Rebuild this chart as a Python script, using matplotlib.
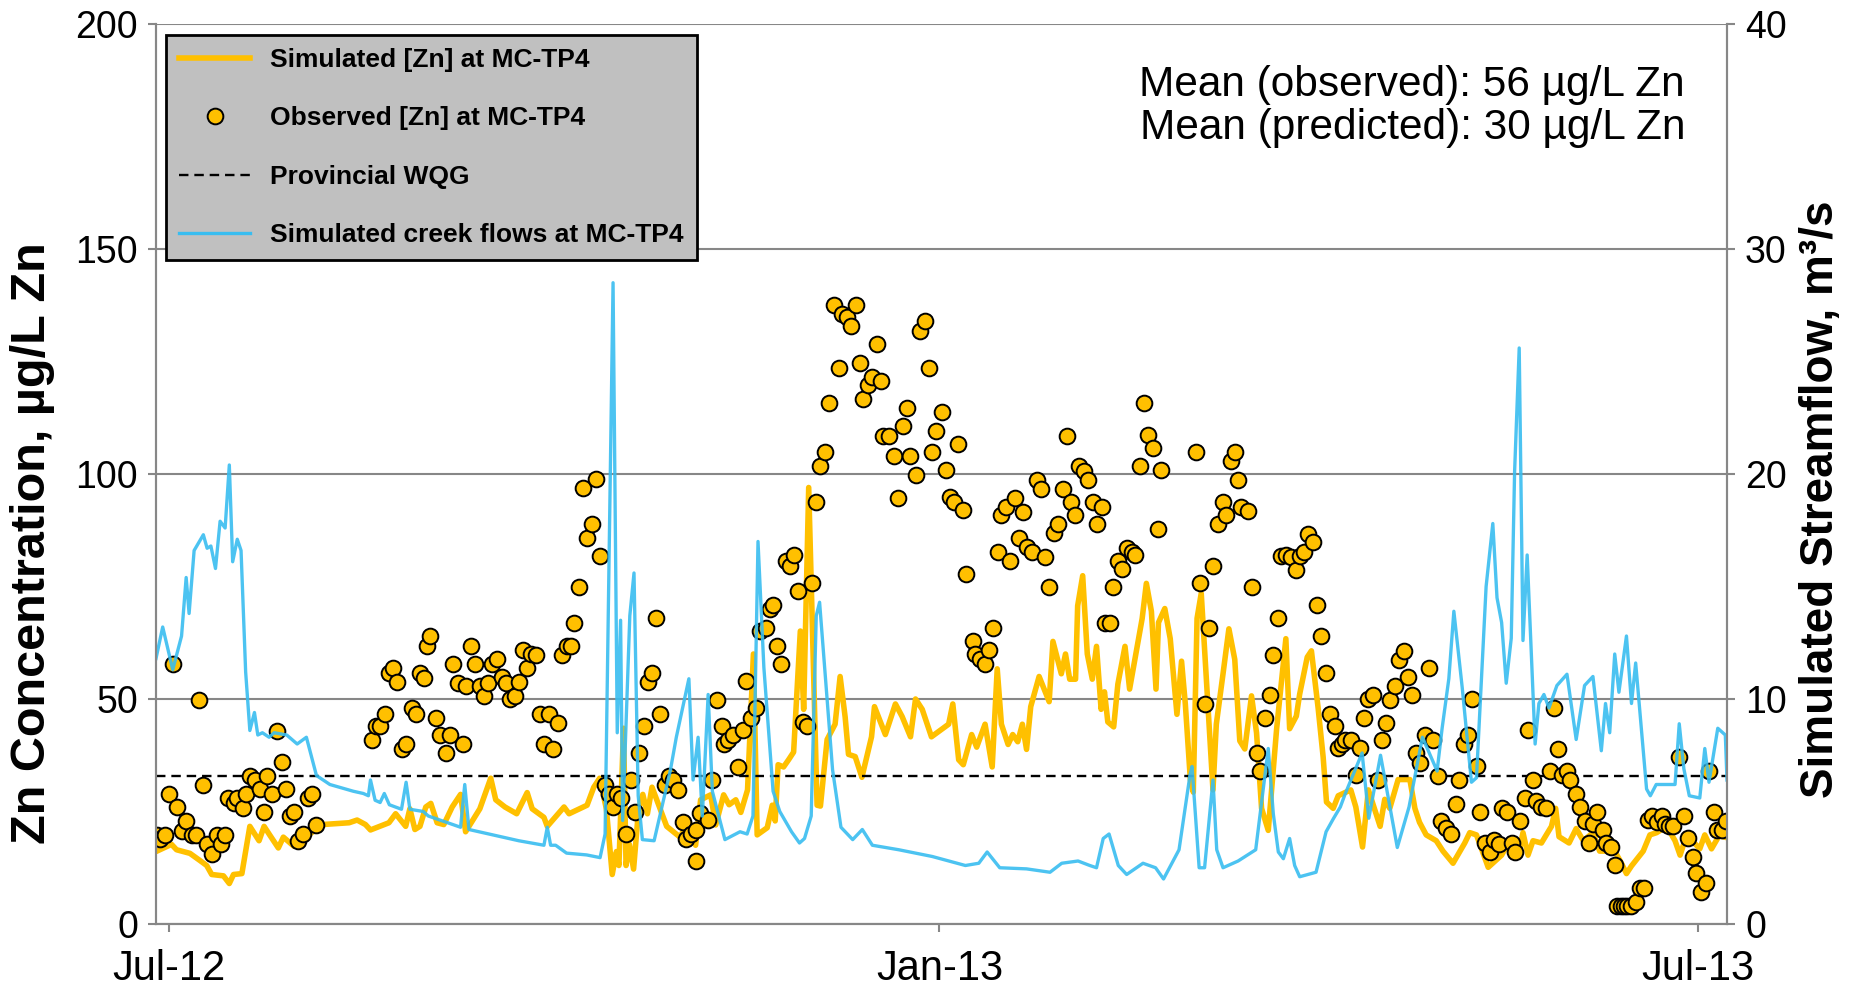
import numpy as np
import pandas as pd
import matplotlib
matplotlib.use('Agg')
import matplotlib.pyplot as plt
import matplotlib.dates as mdates
from matplotlib.lines import Line2D

plt.rcParams['font.family'] = ['Liberation Sans', 'DejaVu Sans']

START = pd.Timestamp('2012-06-28')
WQG = 33

# simulated creek flow, m3/s (day offset from START, value)
flow_days = [0, 1.6, 4.0, 6.1, 7.2, 7.9, 9.1, 11.3, 12.2, 13.1, 14.2, 15.3, 16.5, 17.5, 18.3, 19.4,
             20.3, 21.4, 22.4, 23.5, 24.3, 25.4, 27.0, 28.2, 31.2, 33.7, 35.9, 38.3, 41.5, 47.1,
             49.5, 50.7, 51.2, 52.3, 53.5, 54.5, 55.7, 58.6, 59.7, 60.6, 63.8, 65.0, 72.7, 73.7,
             74.7, 79.5, 86.6, 92.6, 93.4, 94.2, 95.4, 98.0, 102.8, 106.0, 107.2, 109.1, 110.1,
             110.9, 111.4, 113.1, 114.1, 115.1, 116.1, 118.9, 122.8, 124.2, 127.2, 128.2, 129.4,
             130.4, 131.8, 132.8, 135.8, 139.4, 141.1, 142.5, 143.7, 145.1, 147.3, 148.9, 151.7,
             153.6, 154.8, 156.4, 157.6, 158.4, 161.5, 163.5, 166.3, 168.6, 171.0, 177.3, 185.3,
             193.2, 196.4, 198.4, 201.4, 207.8, 213.4, 216.2, 220.1, 222.9, 224.5, 226.1, 227.5,
             229.7, 231.7, 235.6, 238.6, 240.5, 244.2, 246.8, 247.3, 249.0, 250.3, 252.3, 253.2,
             254.7, 258.3, 262.5, 264.3, 265.5, 266.7, 267.9, 269.1, 270.6, 271.8, 273.0, 276.9,
             279.3, 281.1, 282.7, 283.9, 287.9, 289.5, 292.3, 296.3, 299.1, 302.3, 305.8, 307.0,
             308.6, 309.8, 311.8, 314.0, 315.2, 317.5, 319.1, 320.1, 321.2, 322.3, 323.5, 324.3,
             325.4, 326.3, 327.3, 329.2, 330.1, 331.3, 332.5, 334.4, 336.8, 339.0, 341.0, 343.0,
             345.0, 346.0, 347.0, 348.2, 349.2, 351.0, 352.2, 353.2, 355.8, 356.7, 358.1, 362.6,
             363.6, 364.7, 366.0, 368.5, 369.7, 370.7, 372.8, 374.6, 375.0]
flow_vals = [11.8, 13.2, 11.3, 12.8, 15.4, 13.8, 16.6, 17.3, 16.7, 16.8, 15.8, 17.9, 17.6, 20.4, 16.1, 17.1,
             16.6, 11.2, 8.6, 9.4, 8.4, 8.5, 8.3, 8.5, 8.4, 8.0, 8.3, 6.6, 6.2, 5.9,
             5.8, 5.7, 6.4, 5.5, 5.4, 5.8, 5.3, 5.1, 6.3, 5.1, 5.0, 4.8, 4.3, 6.2,
             4.2, 4.0, 3.7, 3.5, 4.3, 3.5, 3.5, 3.15, 3.07, 2.95, 4.0, 28.5, 8.5,
             13.5, 4.6, 13.7, 15.6, 5.7, 3.75, 3.7, 6.85, 8.3, 10.9, 6.4, 8.3,
             4.8, 10.2, 5.9, 3.75, 4.1, 4.0, 4.8, 17.0, 11.4, 5.9, 5.0, 4.1,
             3.6, 3.8, 4.8, 13.7, 14.3, 6.85, 4.3, 3.75, 4.2, 3.5, 3.3, 3.0,
             2.6, 2.7, 3.2, 2.5, 2.45, 2.3, 2.7, 2.8, 2.6, 2.5, 3.8, 4.0,
             2.6, 2.2, 2.7, 2.5, 2.0, 3.3, 6.6, 7.0, 2.5, 2.5, 6.4, 3.3,
             2.5, 2.8, 3.3, 6.0, 7.8, 4.9, 3.2, 2.9, 3.8, 2.6, 2.1, 2.3,
             4.1, 4.7, 5.2, 5.8, 7.6, 4.7, 7.5, 3.4, 5.2, 8.3, 6.8, 8.7,
             10.9, 13.9, 10.5, 6.3, 6.5, 15.0, 17.8, 14.5, 13.4, 10.7, 12.7, 20.1,
             25.6, 12.6, 16.4, 8.0, 9.8, 10.2, 9.6, 10.6, 11.1, 8.2, 10.6, 11.0,
             7.7, 9.8, 8.5, 12.0, 10.3, 12.8, 9.8, 11.6, 6.0, 5.7, 6.2, 6.2,
             8.9, 6.9, 5.7, 5.6, 7.8, 6.3, 8.7, 8.4, 6.4]

# simulated Zn concentration, ug/L
zn_days = [0, 3.7, 4.9, 8.1, 10.5, 12.1, 13.3, 16.1, 17.5, 18.5, 20.5, 22.4, 24.6, 25.8, 27.2, 29.2,
           30.4, 32.9, 39.7, 46.1, 48.0, 50.0, 51.2, 55.6, 57.2, 59.6, 60.6, 61.8, 63.0, 64.4,
           65.6, 67.1, 68.7, 70.7, 72.7, 73.9, 77.3, 79.9, 81.1, 83.3, 86.1, 88.6, 89.8, 92.6,
           93.4, 97.4, 98.6, 102.9, 104.5, 105.9, 107.5, 108.9, 109.9, 110.5, 111.6, 112.2,
           113.0, 114.0, 115.2, 116.2, 117.3, 118.4, 121.9, 125.1, 127.2, 128.8, 130.0, 132.4,
           133.6, 135.5, 136.8, 138.4, 139.6, 141.2, 142.6, 143.5, 145.9, 147.1, 147.8, 148.5,
           149.8, 151.0, 152.2, 153.8, 154.6, 155.8, 157.8, 158.6, 160.2, 162.1, 163.3, 164.5,
           165.3, 166.9, 168.5, 170.8, 171.5, 174.1, 176.5, 178.1, 180.1, 181.3, 182.9, 185.1,
           189.2, 190.2, 191.6, 192.7, 194.7, 195.9, 197.9, 199.6, 200.8, 201.8, 203.4, 204.5,
           205.7, 206.8, 207.8, 208.8, 210.8, 213.2, 214.1, 216.1, 217.1, 218.1, 219.5, 220.0,
           221.2, 222.3, 223.5, 224.5, 225.6, 226.4, 227.2, 228.6, 229.6, 231.3, 232.4, 235.4,
           236.4, 237.6, 238.7, 239.3, 240.8, 242.1, 243.7, 244.8, 245.7, 246.9, 247.6, 248.5,
           249.5, 252.3, 253.1, 254.7, 256.1, 257.5, 258.7, 259.9, 261.5, 262.7, 263.9, 265.5,
           267.5, 269.7, 270.6, 272.2, 273.0, 274.8, 275.8, 277.4, 278.6, 279.4, 281.0, 282.2,
           285.2, 286.4, 288.0, 289.4, 292.2, 293.3, 294.5, 296.5, 299.3, 300.5, 301.6, 303.2,
           305.6, 307.2, 309.6, 312.4, 313.6, 315.2, 318.0, 321.2, 322.8, 325.4, 326.3, 327.5,
           328.7, 330.7, 333.1, 334.1, 334.9, 337.3, 339.0, 340.7, 343.0, 344.6, 348.2, 349.8,
           351.0, 352.2, 355.0, 356.6, 358.2, 360.6, 362.6, 363.8, 365.4, 368.5, 369.7, 371.3,
           373.1, 374.9]
zn_vals = [16.1, 17.7, 16.5, 15.7, 14.1, 13.0, 11.0, 10.7, 9.0, 11.0, 11.2, 21.7, 18.5, 21.7, 19.7, 16.9,
           19.3, 17.3, 22.1, 22.5, 23.1, 22.1, 20.9, 22.5, 24.5, 21.7, 25.6, 21.0, 21.7, 26.0,
           26.8, 22.5, 22.1, 26.0, 28.8, 20.5, 25.6, 32.4, 27.6, 26.0, 24.5, 29.2, 25.6, 23.7,
           21.7, 26.0, 24.5, 26.4, 30.4, 32.4, 25.6, 11.0, 16.1, 13.0, 43.5, 13.0,
           17.7, 12.2, 25.6, 28.8, 24.5, 30.4, 21.7, 19.3, 23.1, 17.5, 27.6, 28.7,
           22.0, 28.7, 26.5, 27.6, 24.8, 29.8, 60.0, 19.8, 21.4, 26.4, 22.9, 35.4,
           34.9, 36.5, 38.2, 65.1, 47.7, 97.0, 26.4, 26.2, 41.0, 44.4, 55.0, 46.0,
           37.7, 37.2, 32.6, 41.6, 48.3, 42.1, 48.9, 46.1, 41.6, 50.0, 47.7, 41.6,
           44.4, 48.9, 36.5, 35.4, 42.1, 39.3, 44.4, 34.9, 56.7, 44.4, 39.9, 42.1,
           40.5, 44.4, 38.8, 48.3, 55.0, 49.4, 62.8, 55.6, 60.0, 54.4, 54.4, 70.7,
           77.4, 60.0, 54.4, 61.7, 47.7, 51.6, 44.9, 43.8, 53.3, 61.7, 52.2, 67.9,
           75.7, 69.5, 52.2, 67.0, 70.1, 63.4, 46.6, 58.4, 48.9, 32.1, 29.3, 67.9,
           73.5, 29.8, 44.4, 55.6, 65.6, 58.8, 40.7, 38.9, 50.7, 42.5, 25.7, 20.8,
           43.4, 63.4, 43.4, 46.2, 51.1, 59.3, 60.7, 48.0, 37.1, 27.1, 25.7, 28.5,
           29.8, 26.0, 17.1, 29.8, 21.7, 27.7, 25.7, 32.1, 32.1, 25.7, 22.6, 19.8,
           18.5, 16.2, 13.5, 18.0, 20.3, 19.8, 12.6, 15.3, 18.0, 16.2, 20.3, 15.3,
           18.5, 18.0, 21.7, 25.7, 19.4, 18.0, 21.2, 18.5, 20.3, 16.2, 16.2, 13.5,
           11.2, 12.9, 16.2, 19.8, 20.3, 21.7, 18.5, 15.3, 19.8, 16.7, 19.8, 16.7,
           19.6, 19.2]

# observed Zn concentration, ug/L
obs_days = [0.3, 1.0, 2.1, 3.2, 4.1, 5.1, 6.1, 7.2, 8.5, 9.5, 10.3, 11.1, 12.1, 13.3, 14.5, 15.5,
            16.5, 17.3, 18.5, 19.4, 20.8, 21.5, 22.4, 23.6, 24.8, 25.8, 26.6, 27.8, 28.8, 30.0,
            31.0, 32.0, 32.9, 34.0, 35.2, 36.2, 37.3, 38.1, 51.5, 52.5, 53.5, 54.7, 55.7, 56.6,
            57.6, 58.8, 59.7, 61.0, 62.0, 62.9, 64.0, 64.6, 65.4, 66.8, 67.9, 69.2, 70.2, 71.0,
            72.1, 73.2, 74.1, 75.3, 76.1, 77.3, 78.3, 79.3, 80.3, 81.3, 82.5, 83.5, 84.5, 85.7,
            86.7, 87.5, 88.5, 89.5, 90.7, 91.6, 92.6, 93.9, 94.8, 95.9, 97.0, 98.0, 99.0, 99.8,
            101.0, 102.0, 102.9, 104.0, 105.0, 106.1, 107.2, 108.2, 109.1, 110.1, 111.1, 112.3,
            113.3, 114.3, 115.3, 116.5, 117.5, 118.5, 119.3, 120.4, 121.5, 122.5, 123.5, 124.7,
            125.7, 126.6, 127.6, 128.9, 129.0, 129.8, 131.8, 132.8, 133.9, 135.0, 135.6, 136.6,
            137.7, 138.9, 140.1, 140.9, 142.0, 143.2, 144.1, 145.5, 146.5, 147.3, 148.3, 149.3,
            150.3, 151.4, 152.4, 153.3, 154.4, 155.4, 156.6, 157.5, 158.4, 159.6, 160.7, 161.8,
            163.0, 163.8, 165.0, 165.9, 167.0, 168.0, 168.8, 170.0, 171.0, 172.1, 173.1, 173.5,
            175.0, 176.1, 177.1, 178.2, 179.3, 180.1, 181.3, 182.3, 183.5, 184.4, 185.3, 186.3,
            187.6, 188.5, 189.5, 190.4, 191.4, 192.6, 193.4, 194.9, 195.5, 196.7, 197.9, 198.9,
            199.9, 201.1, 201.8, 203.0, 203.8, 205.0, 206.1, 207.0, 208.0, 209.0, 210.2, 211.2,
            212.2, 213.1, 214.3, 215.4, 216.4, 217.5, 218.4, 219.3, 220.4, 221.5, 222.5, 223.6,
            224.5, 225.7, 226.5, 227.7, 228.5, 229.7, 230.7, 231.7, 232.9, 233.8, 234.9, 235.9,
            236.8, 238.0, 239.2, 240.0, 248.2, 249.3, 250.4, 251.4, 252.4, 253.6, 254.7, 255.5,
            256.5, 257.5, 258.3, 258.9, 260.7, 261.5, 262.7, 263.6, 264.7, 265.8, 266.6, 267.8,
            268.6, 269.8, 271.0, 272.2, 273.0, 274.0, 275.0, 276.2, 277.1, 278.0, 279.2, 280.2,
            281.4, 282.2, 283.0, 283.7, 285.3, 286.4, 287.5, 288.3, 289.3, 290.5, 291.7, 292.7,
            293.7, 294.6, 295.7, 296.7, 297.8, 298.9, 299.7, 300.7, 301.6, 302.8, 303.9, 304.8,
            306.0, 306.8, 308.0, 309.0, 310.2, 311.0, 312.2, 313.2, 314.2, 315.3, 316.1, 317.2,
            318.4, 319.3, 320.6, 321.4, 322.5, 323.6, 324.4, 325.5, 326.7, 327.5, 328.6, 329.5,
            330.5, 331.9, 332.7, 333.7, 334.7, 335.5, 336.8, 337.6, 338.9, 339.9, 341.1, 342.1,
            343.0, 344.0, 345.3, 346.2, 347.4, 348.2, 348.8, 349.6, 350.4, 351.2, 352.2, 353.2,
            354.2, 355.1, 356.2, 357.2, 358.2, 359.4, 360.2, 361.2, 362.1, 363.6, 364.7, 365.7,
            366.8, 367.7, 368.7, 369.9, 370.7, 371.8, 372.6, 373.9, 374.7]
obs_vals = [19.7, 18.9, 19.7, 28.8, 57.8, 25.9, 20.7, 22.9, 19.7, 19.7, 49.7, 30.8, 17.7, 15.6, 19.7, 17.7,
            19.7, 28.0, 26.9, 28.0, 25.8, 28.8, 32.8, 31.9, 29.9, 24.9, 33.0, 28.8, 43.0, 36.0,
            29.9, 23.9, 24.9, 18.5, 19.9, 28.0, 28.8, 21.9, 41.0, 43.9, 43.9, 46.7, 55.7, 56.8,
            53.8, 38.9, 39.9, 47.9, 46.7, 55.7, 54.6, 61.8, 63.9, 45.7, 41.9, 38.0, 41.9, 57.8,
            53.6, 39.9, 52.8, 61.8, 57.8, 52.8, 50.6, 53.6, 57.8, 59.0, 55.0, 53.6, 49.9, 50.6,
            53.8, 61.0, 56.8, 59.9, 59.8, 46.7, 39.9, 46.7, 38.9, 44.7, 59.8, 61.8, 61.8, 66.8,
            74.9, 96.9, 85.8, 88.8, 98.8, 81.8, 31.0, 28.8, 25.9, 28.8, 27.9, 19.9,
            31.9, 24.9, 38.0, 43.9, 53.8, 55.8, 67.9, 46.7, 30.8, 32.8, 31.9, 29.8,
            22.7, 18.9, 20.1, 20.9, 14.0, 24.7, 23.1, 32.0, 49.7, 44.1, 39.9, 41.0,
            42.1, 34.8, 43.2, 53.9, 45.7, 47.9, 65.1, 65.8, 69.9, 71.0, 61.7, 57.8,
            80.7, 79.6, 81.9, 74.0, 44.9, 44.1, 75.7, 93.8, 101.7, 104.8, 115.7, 137.5,
            123.6, 135.6, 134.8, 132.8, 137.5, 124.7, 116.6, 119.7, 121.6, 128.8, 120.7, 108.5,
            108.5, 103.9, 94.7, 110.6, 114.7, 103.9, 99.8, 131.7, 133.9, 123.6, 104.8, 109.6,
            113.8, 100.9, 95.0, 93.8, 106.7, 91.9, 77.7, 62.8, 60.0, 58.9, 57.8, 60.8,
            65.8, 82.7, 90.8, 92.7, 80.7, 94.7, 85.8, 91.6, 83.8, 82.7, 98.7, 96.7,
            81.6, 74.9, 86.9, 88.9, 96.7, 108.5, 93.8, 90.8, 101.7, 100.7, 98.7, 93.8,
            88.9, 92.7, 66.9, 66.9, 74.9, 80.7, 78.8, 83.5, 82.7, 81.9, 101.7, 115.8,
            108.7, 105.7, 87.8, 100.9, 104.8, 75.7, 48.8, 65.8, 79.6, 88.9, 93.8, 90.8,
            102.8, 104.8, 98.7, 92.7, 91.8, 75.0, 38.1, 34.0, 45.8, 50.8, 59.8, 68.0,
            81.8, 82.1, 81.6, 78.7, 81.8, 82.7, 86.6, 84.8, 70.9, 63.9, 55.7, 46.7,
            44.0, 39.2, 40.1, 40.8, 40.8, 33.1, 39.2, 45.8, 49.9, 50.8, 31.9, 41.0,
            44.6, 49.7, 53.0, 58.7, 60.7, 54.8, 50.8, 38.1, 35.8, 42.1, 56.9, 41.0,
            32.8, 22.8, 21.3, 19.9, 26.7, 31.9, 39.9, 42.1, 49.9, 35.2, 24.9, 18.1,
            15.9, 18.6, 17.7, 25.8, 24.9, 18.1, 15.9, 22.8, 27.9, 43.1, 31.9, 27.4,
            26.1, 25.8, 34.0, 48.1, 39.0, 33.1, 34.0, 31.9, 29.0, 26.1, 22.8, 18.1,
            22.2, 24.9, 20.8, 18.1, 17.2, 13.1, 4.1, 4.1, 4.1, 4.1, 4.1, 5.0,
            8.1, 8.1, 23.1, 24.0, 22.7, 24.0, 22.2, 21.8, 21.8, 37.2, 24.0, 19.1,
            15.0, 11.3, 7.2, 9.1, 34.0, 24.9, 20.8, 20.8, 22.8]


def to_dates(days):
    return START + pd.to_timedelta(np.array(days), unit='D')


YELLOW = '#FFC000'
BLUE = '#38BDF0'
GRID = '#878787'

fig = plt.figure(figsize=(18.54, 9.92), dpi=100)
ax = fig.add_axes([156 / 1854, 1 - 924 / 992, (1727 - 156) / 1854, 900 / 992])
ax2 = ax.twinx()

ax.plot(to_dates(zn_days), zn_vals, color=YELLOW, lw=4.0, zorder=2)
ax.axhline(WQG, color='black', lw=1.7, ls=(0, (4, 2.5)), zorder=3)
ax.plot(to_dates(obs_days), obs_vals, ls='none', marker='o', ms=11.3,
        mfc=YELLOW, mec='black', mew=1.4, zorder=4)
ax2.plot(to_dates(flow_days), flow_vals, color=BLUE, lw=2.4, alpha=0.9)

ax.set_xlim(START, START + pd.Timedelta(days=375))
ax.set_ylim(0, 200)
ax2.set_ylim(0, 40)
ax.set_yticks([0, 50, 100, 150, 200])
ax2.set_yticks([0, 10, 20, 30, 40])
ax.set_xticks(pd.to_datetime(['2012-07-01', '2013-01-01', '2013-07-01']))
ax.xaxis.set_major_formatter(mdates.DateFormatter('%b-%y'))

ax.yaxis.grid(True, color=GRID, lw=1.5)
ax.set_axisbelow(True)
for a in (ax, ax2):
    for side in ('left', 'right', 'bottom'):
        a.spines[side].set_color(GRID)
        a.spines[side].set_linewidth(1.5)
    a.spines['top'].set_visible(False)
ax.tick_params(axis='both', direction='out', length=6, width=1.5, color=GRID)
ax2.tick_params(axis='y', direction='out', length=6, width=1.5, color=GRID)
ax.tick_params(axis='y', labelsize=27, pad=7)
ax2.tick_params(axis='y', labelsize=27, pad=7)
ax.tick_params(axis='x', labelsize=30, pad=12)

fig.text(33 / 1854, 1 - 543 / 992, 'Zn Concentration, µg/L Zn', rotation=90,
         ha='center', va='center', fontsize=35, fontweight='bold')
fig.text(1821 / 1854, 1 - 499 / 992, 'Simulated Streamflow, m³/s', rotation=90,
         ha='center', va='center', fontsize=33, fontweight='bold')

fig.text(1685 / 1854, 1 - 85 / 992, 'Mean (observed): 56 µg/L Zn', ha='right', va='center', fontsize=30.5)
fig.text(1685 / 1854, 1 - 128 / 992, 'Mean (predicted): 30 µg/L Zn', ha='right', va='center', fontsize=30.5)

handles = [
    Line2D([], [], color=YELLOW, lw=4.0),
    Line2D([], [], ls='none', marker='o', ms=11.3, mfc=YELLOW, mec='black', mew=1.4),
    Line2D([], [], color='black', lw=1.7, ls=(0, (4, 2.5))),
    Line2D([], [], color=BLUE, lw=2.4),
]
labels = ['Simulated [Zn] at MC-TP4', 'Observed [Zn] at MC-TP4', 'Provincial WQG',
          'Simulated creek flows at MC-TP4']
leg = fig.legend(handles, labels, loc='upper left', bbox_to_anchor=(166 / 1854, 1 - 35 / 992),
                 frameon=True, fancybox=False, facecolor='#C0C0C0', edgecolor='black',
                 framealpha=1, prop={'weight': 'bold', 'size': 19}, handlelength=2.7,
                 handletextpad=0.75, labelspacing=1.3, borderpad=0.5, borderaxespad=0)
leg.get_frame().set_linewidth(2)

fig.savefig('out.png', dpi=100)
